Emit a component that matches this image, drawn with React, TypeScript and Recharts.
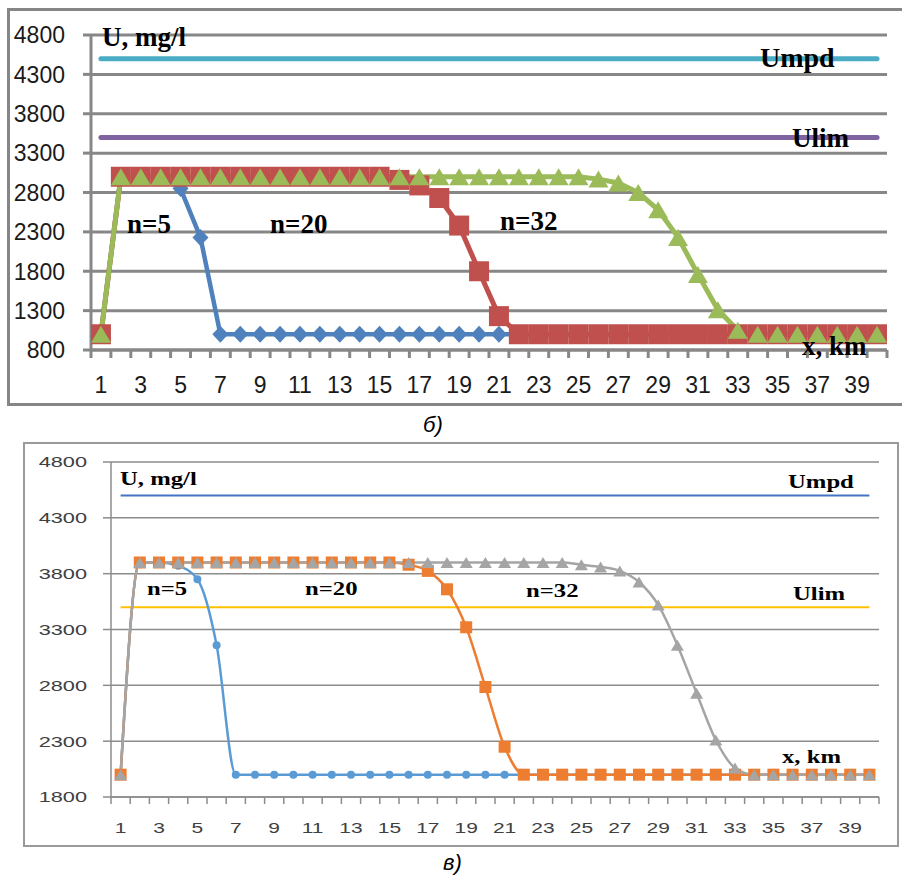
import React from "react";
import { CartesianGrid, Line, LineChart, XAxis, YAxis } from "recharts";

// distance along the river, km (categories)
const xKm = [1, 2, 3, 4, 5, 6, 7, 8, 9, 10, 11, 12, 13, 14, 15, 16, 17, 18, 19, 20, 21, 22, 23, 24, 25, 26, 27, 28, 29, 30, 31, 32, 33, 34, 35, 36, 37, 38, 39, 40];
const xLabels = [1, 3, 5, 7, 9, 11, 13, 15, 17, 19, 21, 23, 25, 27, 29, 31, 33, 35, 37, 39];

// chart б)
const n5Top = [1000, 3000, 3000, 3000, 2850, 2230, 1000, 1000, 1000, 1000, 1000, 1000, 1000, 1000, 1000, 1000, 1000, 1000, 1000, 1000, 1000, 1000, 1000, 1000, 1000, 1000, 1000, 1000, 1000, 1000, 1000, 1000, 1000, 1000, 1000, 1000, 1000, 1000, 1000, 1000];
const n20Top = [1000, 3000, 3000, 3000, 3000, 3000, 3000, 3000, 3000, 3000, 3000, 3000, 3000, 3000, 3000, 2960, 2890, 2730, 2380, 1800, 1230, 1000, 1000, 1000, 1000, 1000, 1000, 1000, 1000, 1000, 1000, 1000, 1000, 1000, 1000, 1000, 1000, 1000, 1000, 1000];
const n32Top = [1000, 3000, 3000, 3000, 3000, 3000, 3000, 3000, 3000, 3000, 3000, 3000, 3000, 3000, 3000, 3000, 3000, 3000, 3000, 3000, 3000, 3000, 3000, 3000, 3000, 2970, 2920, 2800, 2580, 2230, 1760, 1310, 1050, 1000, 1000, 1000, 1000, 1000, 1000, 1000];
const umpdTop = 4500;
const ulimTop = 3500;
const yTicksTop = [800, 1300, 1800, 2300, 2800, 3300, 3800, 4300, 4800];

// chart в)
const n5Bottom = [2000, 3900, 3900, 3870, 3750, 3160, 2000, 2000, 2000, 2000, 2000, 2000, 2000, 2000, 2000, 2000, 2000, 2000, 2000, 2000, 2000, 2000, 2000, 2000, 2000, 2000, 2000, 2000, 2000, 2000, 2000, 2000, 2000, 2000, 2000, 2000, 2000, 2000, 2000, 2000];
const n20Bottom = [2000, 3900, 3900, 3900, 3900, 3900, 3900, 3900, 3900, 3900, 3900, 3900, 3900, 3900, 3900, 3880, 3825, 3660, 3320, 2785, 2250, 2000, 2000, 2000, 2000, 2000, 2000, 2000, 2000, 2000, 2000, 2000, 2000, 2000, 2000, 2000, 2000, 2000, 2000, 2000];
const n32Bottom = [2000, 3900, 3900, 3900, 3900, 3900, 3900, 3900, 3900, 3900, 3900, 3900, 3900, 3900, 3900, 3900, 3900, 3900, 3900, 3900, 3900, 3900, 3900, 3900, 3880, 3860, 3825, 3725, 3520, 3160, 2730, 2310, 2060, 2000, 2000, 2000, 2000, 2000, 2000, 2000];
const umpdBottom = 4500;
const ulimBottom = 3500;
const yTicksBottom = [1800, 2300, 2800, 3300, 3800, 4300, 4800];

const rowsTop = xKm.map((x, i) => ({ x, n5: n5Top[i], n20: n20Top[i], n32: n32Top[i] }));
const rowsBottom = xKm.map((x, i) => ({ x, n5: n5Bottom[i], n20: n20Bottom[i], n32: n32Bottom[i] }));
const flatLine = (v: number) => [{ x: xKm[0], v }, { x: xKm[xKm.length - 1], v }];
const boundaryTicks = [...xKm.map((k) => k - 0.5), xKm[xKm.length - 1] + 0.5];

const W = 902;
const topBox = { h: 420, left: 91, right: 15, top: 35, bottom: 70 };
const botBox = { h: 436, left: 111, right: 23, top: 22, bottom: 79 };

const SANS = "'Liberation Sans', Arial, sans-serif";
const SERIF = "'Liberation Serif', 'Times New Roman', serif";

function square(size: number, fill: string) {
  return (p: any) => {
    if (p.cx == null || p.cy == null) return <g key={`s-${p.index}`} />;
    return <rect key={`s-${p.index}`} x={p.cx - size / 2} y={p.cy - size / 2} width={size} height={size} fill={fill} />;
  };
}

function triangle(w: number, h: number, fill: string) {
  return (p: any) => {
    if (p.cx == null || p.cy == null) return <g key={`t-${p.index}`} />;
    const { cx, cy } = p;
    return <path key={`t-${p.index}`} d={`M${cx},${cy - h / 2}L${cx + w / 2},${cy + h / 2}L${cx - w / 2},${cy + h / 2}Z`} fill={fill} />;
  };
}

function diamond(rx: number, ry: number, fill: string) {
  return (p: any) => {
    if (p.cx == null || p.cy == null) return <g key={`d-${p.index}`} />;
    const { cx, cy } = p;
    return <path key={`d-${p.index}`} d={`M${cx},${cy - ry}L${cx + rx},${cy}L${cx},${cy + ry}L${cx - rx},${cy}Z`} fill={fill} />;
  };
}

function circle(r: number, fill: string) {
  return (p: any) => {
    if (p.cx == null || p.cy == null) return <g key={`c-${p.index}`} />;
    return <circle key={`c-${p.index}`} cx={p.cx} cy={p.cy} r={r} fill={fill} />;
  };
}

function xTick(bandWidth: number, dy: number, size: number, sx: number, color: string) {
  return (props: any) => {
    const { x, y, payload } = props;
    const k = payload.value + 0.5;
    if (!xLabels.includes(k)) return <g />;
    return (
      <text transform={`translate(${x + bandWidth / 2},${y + dy}) scale(${sx},1)`} textAnchor="middle" fontFamily={SANS} fontSize={size} fill={color}>
        {k}
      </text>
    );
  };
}

function yTick(size: number, sx: number, color: string) {
  return (props: any) => {
    const { x, y, payload } = props;
    return (
      <text transform={`translate(${x},${y}) scale(${sx},1)`} dy="0.36em" textAnchor="end" fontFamily={SANS} fontSize={size} fill={color}>
        {payload.value}
      </text>
    );
  };
}

function TopChart() {
  const bw = (W - topBox.left - topBox.right) / xKm.length;
  const axisGray = "#878787";
  return (
    <LineChart width={W} height={topBox.h} data={rowsTop} margin={{ top: topBox.top, right: topBox.right, bottom: 0, left: 0 }}>
      <CartesianGrid vertical={false} stroke={axisGray} strokeWidth={3} />
      <XAxis
        type="number"
        dataKey="x"
        domain={[0.5, 40.5]}
        allowDataOverflow
        ticks={boundaryTicks}
        interval={0}
        height={topBox.bottom}
        tickSize={8}
        tickMargin={0}
        stroke={axisGray}
        strokeWidth={3}
        tick={xTick(bw, 35, 23, 1, "#1a1a1a")}
      />
      <YAxis
        type="number"
        domain={[800, 4800]}
        ticks={yTicksTop}
        interval={0}
        width={topBox.left}
        tickSize={8}
        tickMargin={18}
        stroke={axisGray}
        strokeWidth={3}
        tick={yTick(23, 1, "#1a1a1a")}
      />
      <Line data={flatLine(umpdTop)} dataKey="v" stroke="#4bacc6" strokeWidth={5} strokeLinecap="round" dot={false} activeDot={false} isAnimationActive={false} />
      <Line data={flatLine(ulimTop)} dataKey="v" stroke="#8064a2" strokeWidth={5} strokeLinecap="round" dot={false} activeDot={false} isAnimationActive={false} />
      <Line type="linear" dataKey="n5" stroke="#4f81bd" strokeWidth={4.5} strokeLinejoin="round" dot={diamond(8, 8.5, "#4f81bd")} activeDot={false} isAnimationActive={false} />
      <Line type="linear" dataKey="n20" stroke="#c0504d" strokeWidth={5} strokeLinejoin="round" dot={square(20, "#c0504d")} activeDot={false} isAnimationActive={false} />
      <Line type="linear" dataKey="n32" stroke="#9bbb59" strokeWidth={5} strokeLinejoin="round" dot={triangle(20, 17, "#9bbb59")} activeDot={false} isAnimationActive={false} />
    </LineChart>
  );
}

function BottomChart() {
  const bw = (W - botBox.left - botBox.right) / xKm.length;
  const axisGray = "#8c8c8c";
  return (
    <LineChart width={W} height={botBox.h} data={rowsBottom} margin={{ top: botBox.top, right: botBox.right, bottom: 0, left: 0 }}>
      <CartesianGrid vertical={false} stroke={axisGray} strokeWidth={1.5} />
      <XAxis
        type="number"
        dataKey="x"
        domain={[0.5, 40.5]}
        allowDataOverflow
        ticks={boundaryTicks}
        interval={0}
        height={botBox.bottom}
        tickSize={7}
        tickMargin={0}
        stroke={axisGray}
        strokeWidth={1.5}
        tick={xTick(bw, 29, 15, 1.4, "#404040")}
      />
      <YAxis
        type="number"
        domain={[1800, 4800]}
        ticks={yTicksBottom}
        interval={0}
        width={botBox.left}
        tickSize={8}
        tickMargin={16}
        stroke={axisGray}
        strokeWidth={1.5}
        tick={yTick(15, 1.45, "#404040")}
      />
      <Line data={flatLine(umpdBottom)} dataKey="v" stroke="#4472c4" strokeWidth={2} dot={false} activeDot={false} isAnimationActive={false} />
      <Line data={flatLine(ulimBottom)} dataKey="v" stroke="#ffc000" strokeWidth={2} dot={false} activeDot={false} isAnimationActive={false} />
      <Line type="monotone" dataKey="n5" stroke="#5b9bd5" strokeWidth={2.5} dot={circle(4, "#5b9bd5")} activeDot={false} isAnimationActive={false} />
      <Line type="monotone" dataKey="n20" stroke="#ed7d31" strokeWidth={2.5} dot={square(12, "#ed7d31")} activeDot={false} isAnimationActive={false} />
      <Line type="monotone" dataKey="n32" stroke="#a5a5a5" strokeWidth={2.5} dot={triangle(13, 11, "#a5a5a5")} activeDot={false} isAnimationActive={false} />
    </LineChart>
  );
}

function Label({ x, y, text, size, sx = 1 }: { x: number; y: number; text: string; size: number; sx?: number }) {
  return (
    <text transform={`translate(${x},${y}) scale(${sx},1)`} fontFamily={SERIF} fontWeight="bold" fontSize={size} fill="#000">
      {text}
    </text>
  );
}

export default function App() {
  return (
    <div style={{ position: "absolute", left: 0, top: 0, width: W, height: 876, overflow: "hidden", background: "#fff" }}>
      <div style={{ position: "absolute", left: 7, top: 8, width: 900, height: 398, border: "3px solid #868686", boxSizing: "border-box" }} />
      <div style={{ position: "absolute", left: 23, top: 442, width: 876, height: 405, border: "2px solid #9a9a9a", boxSizing: "border-box" }} />
      <div style={{ position: "absolute", left: 0, top: 0 }}>
        <TopChart />
      </div>
      <div style={{ position: "absolute", left: 0, top: 440 }}>
        <BottomChart />
      </div>
      <svg width={W} height={876} style={{ position: "absolute", left: 0, top: 0, pointerEvents: "none" }}>
        <Label x={102} y={46} text="U, mg/l" size={27} />
        <Label x={760} y={67} text="Umpd" size={28} />
        <Label x={792} y={147} text="Ulim" size={27} />
        <Label x={127} y={233} text="n=5" size={27} />
        <Label x={270} y={233} text="n=20" size={27} />
        <Label x={500} y={230} text="n=32" size={27} />
        <Label x={802} y={355} text="x, km" size={27} />
        <text x={423} y={432} fontFamily={SANS} fontStyle="italic" fontSize={22} fill="#000">б)</text>

        <Label x={120} y={485} text="U, mg/l" size={19} sx={1.3} />
        <Label x={788} y={488} text="Umpd" size={19} sx={1.3} />
        <Label x={793} y={600} text="Ulim" size={19} sx={1.3} />
        <Label x={147} y={595} text="n=5" size={19} sx={1.3} />
        <Label x={305} y={595} text="n=20" size={19} sx={1.3} />
        <Label x={526} y={597} text="n=32" size={19} sx={1.3} />
        <Label x={782} y={763} text="x, km" size={19} sx={1.3} />
        <text x={443} y={870} fontFamily={SANS} fontStyle="italic" fontSize={22} fill="#000">в)</text>
      </svg>
    </div>
  );
}
